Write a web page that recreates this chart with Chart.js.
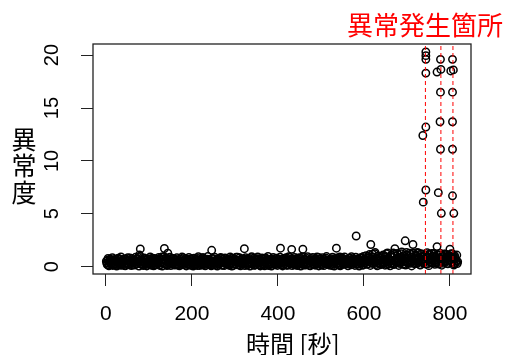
<!DOCTYPE html>
<html>
<head>
<meta charset="utf-8">
<script src="https://cdn.jsdelivr.net/npm/chart.js@4.4.0/dist/chart.umd.min.js"></script>
<style>
  html, body { margin: 0; padding: 0; background: #fff; }
  #wrap { width: 506px; height: 355px; }
</style>
</head>
<body>
<div id="wrap"><canvas id="c" width="506" height="355"></canvas></div>
<script>
// anomaly score of normal operation, sensor A: one sample every 2 s from t = 2 s
var sampleStartA = 2;
var sampleStep = 2;
var baseScoresA = [
  0.35,0.62,0.18,0.44,0.71,0.27,0.53,0.12,0.66,0.39,0.58,0.21,0.47,0.74,0.31,0.15,0.68,0.42,0.25,0.57,
  0.49,0.13,0.72,0.36,0.61,0.22,0.55,0.83,0.29,0.46,0.17,0.64,0.38,0.52,0.24,0.69,0.41,0.88,1.12,1.68,
  0.33,0.59,0.19,0.76,0.43,0.28,0.63,0.14,0.51,0.37,0.70,0.23,0.48,0.81,0.32,0.56,0.16,0.65,0.40,0.26,
  0.54,0.73,0.20,0.45,0.92,0.34,0.67,1.72,0.30,0.58,0.11,1.28,0.47,0.62,0.25,0.79,0.38,0.53,0.18,0.70,
  0.42,0.27,0.61,0.15,0.50,0.74,0.36,0.22,0.57,0.84,0.31,0.46,0.13,0.68,0.39,0.55,0.20,0.72,0.44,0.29,
  0.60,0.35,0.17,0.66,0.48,0.24,0.77,0.40,0.12,0.53,0.69,0.32,0.86,0.45,0.21,0.58,0.37,0.71,0.26,0.50,
  0.63,0.19,1.55,0.41,0.75,0.30,0.56,0.14,0.67,0.43,0.23,0.59,0.80,0.34,0.49,0.16,0.70,0.38,0.54,0.27,
  0.45,0.66,0.20,0.52,0.78,0.33,0.61,0.11,0.47,0.72,0.28,0.57,0.90,0.36,0.18,0.64,0.42,0.25,0.69,0.51,
  1.70,0.34,0.58,0.16,0.73,0.40,0.26,0.62,0.85,0.30,0.55,0.13,0.68,0.44,0.21,0.76,0.37,0.50,0.15,0.65,
  0.29,0.53,0.71,0.19,0.46,0.82,0.35,0.60,0.12,0.67,0.41,0.24,0.56,0.74,0.32,0.48,0.17,0.63,0.39,0.70,
  0.26,0.58,1.75,0.43,0.69,0.20,0.54,0.31,0.77,0.14,0.62,0.38,0.49,0.88,0.27,1.64,0.45,0.66,0.18,0.52,
  0.73,0.35,0.22,0.60,0.41,0.84,0.30,0.57,1.65,0.16,0.68,0.47,0.25,0.79,0.36,0.55,0.13,0.64,0.43,0.28,
  0.61,0.19,0.50,0.74,0.33,0.58,0.87,0.24,0.45,0.70,0.15,0.53,0.39,0.66,0.29,0.80,0.42,0.21,0.59,0.36,
  0.67,0.48,0.12,0.55,0.31,0.76,0.44,1.75,0.26,0.63,0.38,0.92,0.18,0.57,0.71,0.34,0.49,0.23,0.65,0.40,
  0.27,0.62,0.45,0.81,0.17,0.54,0.36,0.73,0.30,0.58,2.90,0.43,0.68,0.22,0.50,0.85,0.33,0.61,0.14,0.47,
  0.72,0.39,0.56,0.24,0.95,0.48,0.68,2.10,0.31,1.18,0.60,0.42,1.35,0.20,0.77,0.53,0.36,0.90,0.27,0.64,
  0.45,1.05,0.30,0.71,0.52,1.22,0.18,0.83,0.40,0.66,0.97,0.34,0.59,1.30,0.25,1.70,0.49,0.78,0.37,1.15,
  0.56,0.29,0.88,1.40,0.43,0.67,0.21,2.45,0.74,1.10,0.38,0.60,1.28,0.32,0.92,0.51,2.10,0.70,0.26,1.02,
  0.63,1.35,0.41,0.80,0.19,1.20,0.57,0.95,0.35,0.72,1.08,0.48,0.86,0.28,1.15,0.62,0.90,0.44,1.25,0.70,
  0.53,1.02,0.37,0.88,1.90,0.61,0.25,1.12,0.76,0.45,0.98,0.33,0.69,1.18,0.52,0.84,0.30,1.05,0.58,1.65,
  0.92,0.41,1.20,0.66,0.28,0.85,0.55,1.10,0.47
];

// sensor B: one sample every 2 s from t = 1 s
var sampleStartB = 1;
var baseScoresB = [
  0.52,0.21,0.78,0.09,0.44,0.63,0.33,0.86,0.17,0.57,0.28,0.72,0.06,0.49,0.81,0.38,0.24,0.93,0.13,0.61,
  0.40,0.74,0.08,0.55,0.30,0.85,0.19,0.66,0.46,0.10,0.77,0.35,0.60,0.15,0.89,0.27,0.53,0.71,0.05,0.97,
  0.24,0.67,0.42,0.11,0.82,0.36,0.58,0.07,0.75,0.29,0.50,0.92,0.14,0.63,0.39,0.08,0.79,0.47,0.20,0.68,
  0.31,0.88,0.12,0.59,0.43,0.06,0.73,0.95,0.26,0.51,0.83,0.18,0.64,0.37,0.90,0.10,0.56,0.30,0.78,0.45,
  0.15,0.62,0.84,0.23,0.48,0.09,0.70,0.34,0.91,0.19,0.55,0.41,0.76,0.07,0.66,0.28,0.87,0.50,0.13,0.73,
  0.38,0.06,0.80,0.52,0.25,0.69,0.11,0.94,0.44,0.32,0.60,0.16,0.85,0.27,0.71,0.09,0.57,0.40,0.96,0.20,
  0.65,0.33,0.08,0.77,0.49,0.18,0.90,0.42,0.61,0.05,0.74,0.29,0.53,0.87,0.14,0.68,0.36,0.10,0.82,0.46,
  0.22,0.70,0.57,0.12,0.93,0.35,0.06,0.79,0.48,0.26,0.64,0.90,0.17,0.51,0.38,0.84,0.08,0.62,0.30,0.75,
  0.44,0.10,0.86,0.59,0.21,0.72,0.37,0.05,0.67,0.95,0.28,0.50,0.81,0.14,0.60,0.39,0.92,0.19,0.73,0.07,
  0.56,0.83,0.25,0.41,0.09,0.76,0.63,0.30,0.97,0.15,0.47,0.71,0.06,0.58,0.88,0.23,0.52,0.34,0.80,0.12,
  0.69,0.37,0.90,0.18,0.54,0.07,0.78,0.45,0.26,0.85,0.60,0.13,0.94,0.32,0.50,0.72,0.10,0.66,0.41,0.87,
  0.20,0.58,0.11,0.83,0.35,0.68,0.06,0.49,0.91,0.27,0.74,0.40,0.16,0.62,0.95,0.30,0.55,0.08,0.77,0.43,
  0.88,0.26,0.65,0.14,0.51,0.93,0.36,0.07,0.72,0.45,0.19,0.84,0.57,0.10,0.69,0.33,0.96,0.22,0.48,0.61,
  0.13,0.75,0.42,0.90,0.28,0.06,0.64,0.53,0.82,0.17,0.38,0.71,0.09,0.59,0.86,0.24,0.47,0.93,0.31,0.67,
  0.50,0.08,0.79,0.35,0.62,0.95,0.21,0.44,0.70,0.12,0.89,0.56,0.27,0.76,0.05,0.63,0.40,0.85,0.18,0.97,
  0.34,0.66,1.05,0.23,0.81,0.48,1.15,0.12,0.74,0.57,0.92,0.29,1.24,0.41,0.68,0.08,1.02,0.53,0.86,0.19,
  0.77,0.35,1.12,0.60,0.14,0.95,0.46,1.30,0.27,0.71,0.09,1.08,0.55,0.88,0.20,1.18,0.64,0.38,1.26,0.50,
  0.12,0.90,0.44,1.22,0.68,0.25,1.05,0.57,0.16,1.35,0.80,0.33,0.97,0.48,1.15,0.07,0.73,1.28,0.40,0.86,
  1.10,0.30,0.78,1.30,0.52,0.15,0.95,1.20,0.42,0.70,1.05,0.26,0.88,1.32,0.60,0.10,1.18,0.75,0.35,1.00,
  0.65,1.25,0.22,0.92,0.50,1.10,0.80,0.32,1.28,0.58,0.14,1.02,0.72,1.20,0.40,0.90,1.15,0.28,0.84,1.05,
  0.60,1.22,0.38,0.95,0.15,1.05,0.72,0.50,0.30
];

// scores during the three faults
var spikeTimes  = [744, 744, 744, 744, 744, 737, 744, 738,
                   778, 770, 779, 778, 777, 778, 773, 780,
                   806, 802, 808, 806, 806, 806, 806, 809];
var spikeScores = [20.3, 19.95, 19.6, 18.3, 13.2, 12.4, 7.25, 6.1,
                   19.6, 18.4, 18.65, 16.5, 13.7, 11.1, 7.0, 5.05,
                   19.6, 18.5, 18.6, 16.5, 13.7, 11.1, 6.7, 5.05];

var faultTimes = [743, 779, 807];

var xTicks = [0, 200, 400, 600, 800];
var yTicks = [0, 5, 10, 15, 20];
var xMin = -30, xMax = 849;
var yMin = -0.69, yMax = 21.05;

var chartTitle = "異常発生箇所";
var xTitle = "時間 [秒]";
var yTitle = "異常度";

var cjk = '"Noto Sans CJK JP", "Noto Sans", sans-serif';

function toPoints(scores, start) {
  return scores.map(function (v, i) { return { x: start + i * sampleStep, y: v }; });
}
var basePoints = toPoints(baseScoresA, sampleStartA).concat(toPoints(baseScoresB, sampleStartB));
var spikePoints = spikeTimes.map(function (t, i) {
  return { x: t, y: spikeScores[i] };
});

var datasets = faultTimes.map(function (t) {
  return {
    type: 'line',
    data: [{ x: t, y: yMin }, { x: t, y: yMax }],
    borderColor: '#ff0000',
    borderWidth: 1,
    borderDash: [4, 3],
    pointRadius: 0,
    fill: false
  };
});
datasets.push({
  data: spikePoints,
  pointRadius: 3.7,
  pointBorderWidth: 1.5,
  pointBorderColor: '#000',
  pointBackgroundColor: 'rgba(0,0,0,0)'
});
datasets.push({
  data: basePoints,
  pointRadius: 3.7,
  pointBorderWidth: 1.5,
  pointBorderColor: '#000',
  pointBackgroundColor: 'rgba(0,0,0,0)'
});

var frameAndTitles = {
  id: 'frameAndTitles',
  afterDraw: function (chart) {
    var ctx = chart.ctx;
    var a = chart.chartArea;
    ctx.save();
    ctx.strokeStyle = '#222';
    ctx.lineWidth = 1.3;
    ctx.strokeRect(a.left, a.top, a.right - a.left, a.bottom - a.top);

    ctx.fillStyle = '#ff0000';
    ctx.font = '26px ' + cjk;
    ctx.textAlign = 'left';
    ctx.textBaseline = 'middle';
    ctx.fillText(chartTitle, 347, 25);

    ctx.fillStyle = '#000';
    ctx.font = '24px ' + cjk;
    ctx.textAlign = 'left';
    ctx.fillText(xTitle, 246, 344);

    ctx.font = '25px ' + cjk;
    ctx.textAlign = 'center';
    for (var i = 0; i < yTitle.length; i++) {
      ctx.fillText(yTitle[i], 24, 139 + i * 26.5);
    }
    ctx.restore();
  }
};

new Chart(document.getElementById('c').getContext('2d'), {
  type: 'scatter',
  data: { datasets: datasets },
  options: {
    responsive: false,
    animation: false,
    layout: { padding: { left: 0, top: 44, right: 35, bottom: 0 } },
    plugins: { legend: { display: false }, tooltip: { enabled: false } },
    scales: {
      x: {
        type: 'linear',
        min: xMin,
        max: xMax,
        afterBuildTicks: function (s) { s.ticks = xTicks.map(function (v) { return { value: v }; }); },
        afterFit: function (s) { s.height = 81; },
        grid: { drawOnChartArea: false, drawTicks: true, tickLength: 12, color: '#222', lineWidth: 1 },
        border: { display: false },
        ticks: { color: '#000', padding: 16, maxRotation: 0, font: { family: '"Liberation Sans", Arial, sans-serif', size: 21 } }
      },
      y: {
        type: 'linear',
        min: yMin,
        max: yMax,
        afterBuildTicks: function (s) { s.ticks = yTicks.map(function (v) { return { value: v }; }); },
        afterFit: function (s) { s.width = 93; },
        grid: { drawOnChartArea: false, drawTicks: true, tickLength: 12, color: '#222', lineWidth: 1 },
        border: { display: false },
        ticks: { color: '#000', padding: 17, minRotation: 90, maxRotation: 90, crossAlign: 'center', font: { family: '"Liberation Sans", Arial, sans-serif', size: 20 } }
      }
    }
  },
  plugins: [frameAndTitles]
});
</script>
</body>
</html>
